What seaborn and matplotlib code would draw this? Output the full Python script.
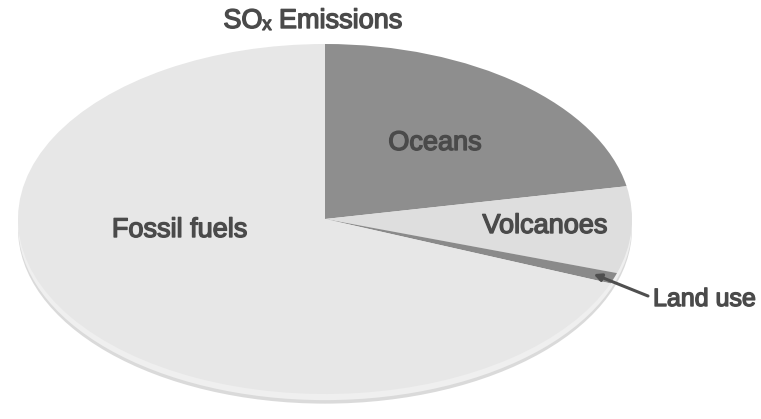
import matplotlib
matplotlib.use("Agg")
import matplotlib.pyplot as plt
import matplotlib.patheffects as pe
import seaborn as sns
from matplotlib.patches import Ellipse
import numpy as np

# Sources of sulfur oxide emissions (percent of total)
sources = ["Oceans", "Volcanoes", "Land use", "Fossil fuels"]
shares = [22, 8, 1, 69]
colors = ["#8e8e8e", "#dedede", "#8a8a8a", "#e7e7e7"]
title = "SOₓ Emissions"

sns.set_theme(style="white")
plt.rcParams["font.family"] = ["Liberation Sans", "DejaVu Sans"]

W, H = 761, 419
fig = plt.figure(figsize=(W / 100, H / 100), dpi=100)
fig.patch.set_facecolor("white")
ax = fig.add_axes([0, 0, 1, 1])

# pie centre and radii in pixels; the pie is drawn flattened into an ellipse
cx, cy, rx, ry = 325, 219, 307, 175

def px(x, y):
    """pixel position (from top-left) -> data coordinates"""
    return (x - cx) / rx, (cy - y) / ry

# soft rim under the pie
ax.add_patch(Ellipse((0, -0.055), 2.0, 2.0, facecolor="#dadada",
                     edgecolor="none", zorder=0))
ax.add_patch(Ellipse((0, -0.035), 2.0, 2.0, facecolor="#efefef",
                     edgecolor="none", zorder=0))

wedges, _ = ax.pie(shares, colors=colors, startangle=90, counterclock=False,
                   wedgeprops=dict(linewidth=0))
ax.set_aspect("auto")
ax.set_xlim(-cx / rx, (W - cx) / rx)
ax.set_ylim(-(H - cy) / ry, cy / ry)
ax.axis("off")

heavy = [pe.withStroke(linewidth=1.0, foreground="#4a4a4a")]
txt = dict(color="#4a4a4a", fontsize=19.5, ha="center", va="baseline",
           path_effects=heavy)
ax.text(*px(435, 150), sources[0], **txt)
ax.text(*px(545, 233), sources[1], **txt)
ax.text(*px(180, 237), sources[3], **txt)

# callout for the thin land-use wedge
w = wedges[2]
mid = np.deg2rad((w.theta1 + w.theta2) / 2)
tip = (0.93 * np.cos(mid), 0.93 * np.sin(mid))
ax.annotate("", xy=tip, xytext=px(648, 296),
            arrowprops=dict(arrowstyle="-|>", color="#4f4f4f", lw=2.2,
                            mutation_scale=11, shrinkA=0, shrinkB=0))
ax.text(*px(653, 306), sources[2], color="#4a4a4a", fontsize=18,
        ha="left", va="baseline", path_effects=heavy)

fig.text(313 / W, 1 - 28 / H, title, color="#4a4a4a", fontsize=19.5,
         ha="center", va="baseline", path_effects=heavy,
         family=["Liberation Sans", "DejaVu Sans"])

fig.savefig("out.png", dpi=100, facecolor="white")
